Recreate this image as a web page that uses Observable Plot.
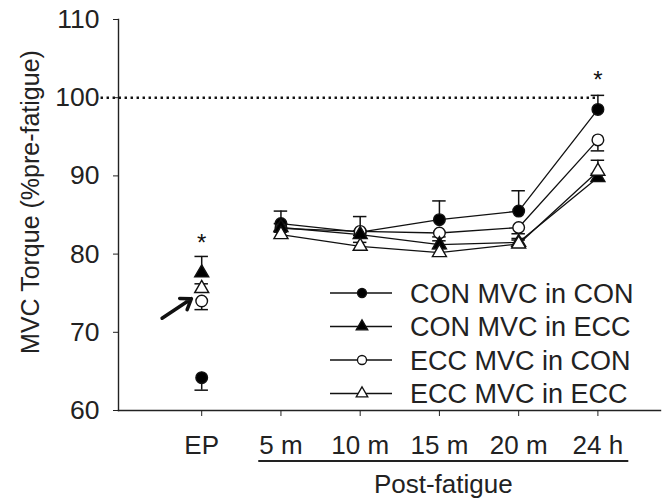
<!DOCTYPE html>
<html>
<head>
<meta charset="utf-8">
<script src="https://cdn.jsdelivr.net/npm/d3@7"></script>
<script src="https://cdn.jsdelivr.net/npm/@observablehq/plot@0.6"></script>
<style>
  body { margin: 0; background: #fff; }
  #chart { width: 665px; height: 502px; }
</style>
</head>
<body>
<div id="chart"></div>
<script>
// ---- data ----
const categories = ["EP", "5 m", "10 m", "15 m", "20 m", "24 h"];
const seriesNames = ["CON MVC in CON", "CON MVC in ECC", "ECC MVC in CON", "ECC MVC in ECC"];
const conInCon    = [64.2, 83.9, 82.8, 84.4, 85.5, 98.5];
const conInConErr = [-1.6, 1.6, 2.0, 2.4, 2.6, 1.8];
const conInEcc    = [77.6, 83.4, 82.5, 81.2, 81.5, 89.8];
const conInEccErr = [2.1, 0.5, 0.5, 0.5, 0.5, 0.5];
const eccInCon    = [74.0, 83.3, 82.9, 82.7, 83.4, 94.6];
const eccInConErr = [-1.1, -0.5, -0.5, -0.5, -0.8, -1.4];
const eccInEcc    = [75.6, 82.5, 81.0, 80.2, 81.3, 90.6];
const eccInEccErr = [0.6, 0.5, 0.5, 0.5, 0.5, 1.4];
const yTicks = [60, 70, 80, 90, 100, 110];
const referenceLevel = 100;
const stars = [{i: 0, v: 81.4}, {i: 5, v: 102.2}];
const arrowAnnot = [{x1: -0.50, y1: 71.8, x2: -0.13, y2: 74.3}];

const symbols = ["circle", "triangle", "circle", "triangle"];
const fills = ["black", "black", "white", "white"];
const means = [conInCon, conInEcc, eccInCon, eccInEcc];
const errs = [conInConErr, conInEccErr, eccInConErr, eccInEccErr];

const rows = [];
seriesNames.forEach((s, k) => {
  means[k].forEach((v, i) => {
    rows.push({series: s, k, i, v, end: v + errs[k][i], sym: symbols[k], fill: fills[k]});
  });
});
const post = rows.filter(d => d.i >= 1);

const FONT = "'Liberation Sans', Arial, Helvetica, sans-serif";
const capHalf = 0.085;

const plot = Plot.plot({
  width: 665,
  height: 502,
  marginLeft: 118,
  marginRight: 5,
  marginTop: 19,
  marginBottom: 92,
  style: {fontFamily: FONT, fontSize: "26px", color: "#222", background: "white"},
  x: {type: "linear", domain: [-1.05, 5.79]},
  y: {domain: [60, 110]},
  symbol: {type: "identity"},
  r: {type: "identity"},
  marks: [
    Plot.frame({anchor: "left", stroke: "#222", strokeWidth: 1.4}),
    Plot.frame({anchor: "bottom", stroke: "#222", strokeWidth: 1.4}),
    Plot.axisY({ticks: yTicks, tickSize: 5, tickPadding: 14, label: null, fontSize: 26.5, stroke: "#222"}),
    Plot.axisX({ticks: d3.range(categories.length), tickFormat: i => categories[i], tickSize: 6, tickPadding: 19, label: null, fontSize: 26, stroke: "#222"}),
    Plot.ruleY([referenceLevel], {x1: -1.27, x2: 5, stroke: "#111", strokeWidth: 2.6, strokeDasharray: "2.4,3.6"}),
    Plot.line(post, {x: "i", y: "v", z: "series", stroke: "#111", strokeWidth: 1.3}),
    Plot.ruleX(rows, {x: "i", y1: "v", y2: "end", stroke: "#111", strokeWidth: 1.5}),
    Plot.ruleY(rows, {y: "end", x1: d => d.i - capHalf, x2: d => d.i + capHalf, stroke: "#111", strokeWidth: 1.5}),
    Plot.dot(rows, {x: "i", y: "v", symbol: "sym", fill: "fill", stroke: "#111", strokeWidth: 1.4,
      r: d => d.sym === "circle" ? 5.8 : 5.2}),
    Plot.text(stars, {x: "i", y: "v", text: () => "*", fontSize: 24, fill: "#111"}),
    Plot.arrow(arrowAnnot, {x1: "x1", y1: "y1", x2: "x2", y2: "y2", stroke: "#111", strokeWidth: 3.5, headLength: 11, headAngle: 70})
  ]
});

const svg = d3.select(plot);
const xs = plot.scale("x");

// y-axis title
svg.append("text")
  .attr("transform", "translate(30,202) rotate(-90)")
  .attr("text-anchor", "middle")
  .attr("dominant-baseline", "central")
  .attr("font-family", FONT)
  .attr("font-size", 25)
  .attr("fill", "#222")
  .text("MVC Torque (%pre-fatigue)");

// post-fatigue bracket
const bracketFrom = xs.apply(0.72), bracketTo = xs.apply(5.39);
svg.append("line")
  .attr("x1", bracketFrom).attr("x2", bracketTo)
  .attr("y1", 461).attr("y2", 461)
  .attr("stroke", "#222").attr("stroke-width", 2);
svg.append("text")
  .attr("x", (bracketFrom + bracketTo) / 2).attr("y", 493)
  .attr("text-anchor", "middle")
  .attr("font-family", FONT).attr("font-size", 26).attr("fill", "#222")
  .text("Post-fatigue");

// legend
const lg = svg.append("g").attr("transform", "translate(330,293)");
seriesNames.forEach((s, k) => {
  const g = lg.append("g").attr("transform", `translate(0,${k * 33.5})`);
  g.append("line").attr("x1", 0).attr("x2", 62).attr("y1", 0).attr("y2", 0)
    .attr("stroke", "#111").attr("stroke-width", 1.3);
  const sym = symbols[k] === "circle" ? d3.symbolCircle : d3.symbolTriangle;
  g.append("path").attr("d", d3.symbol(sym, symbols[k] === "circle" ? 64 : 58)())
    .attr("transform", "translate(32,0)")
    .attr("fill", fills[k]).attr("stroke", "#111").attr("stroke-width", 1.3);
  g.append("text").attr("x", 80).attr("y", 0).attr("dy", "0.36em")
    .attr("text-anchor", "start")
    .attr("font-family", FONT).attr("font-size", 27).attr("fill", "#222")
    .text(s);
});

document.getElementById("chart").appendChild(plot);
</script>
</body>
</html>
